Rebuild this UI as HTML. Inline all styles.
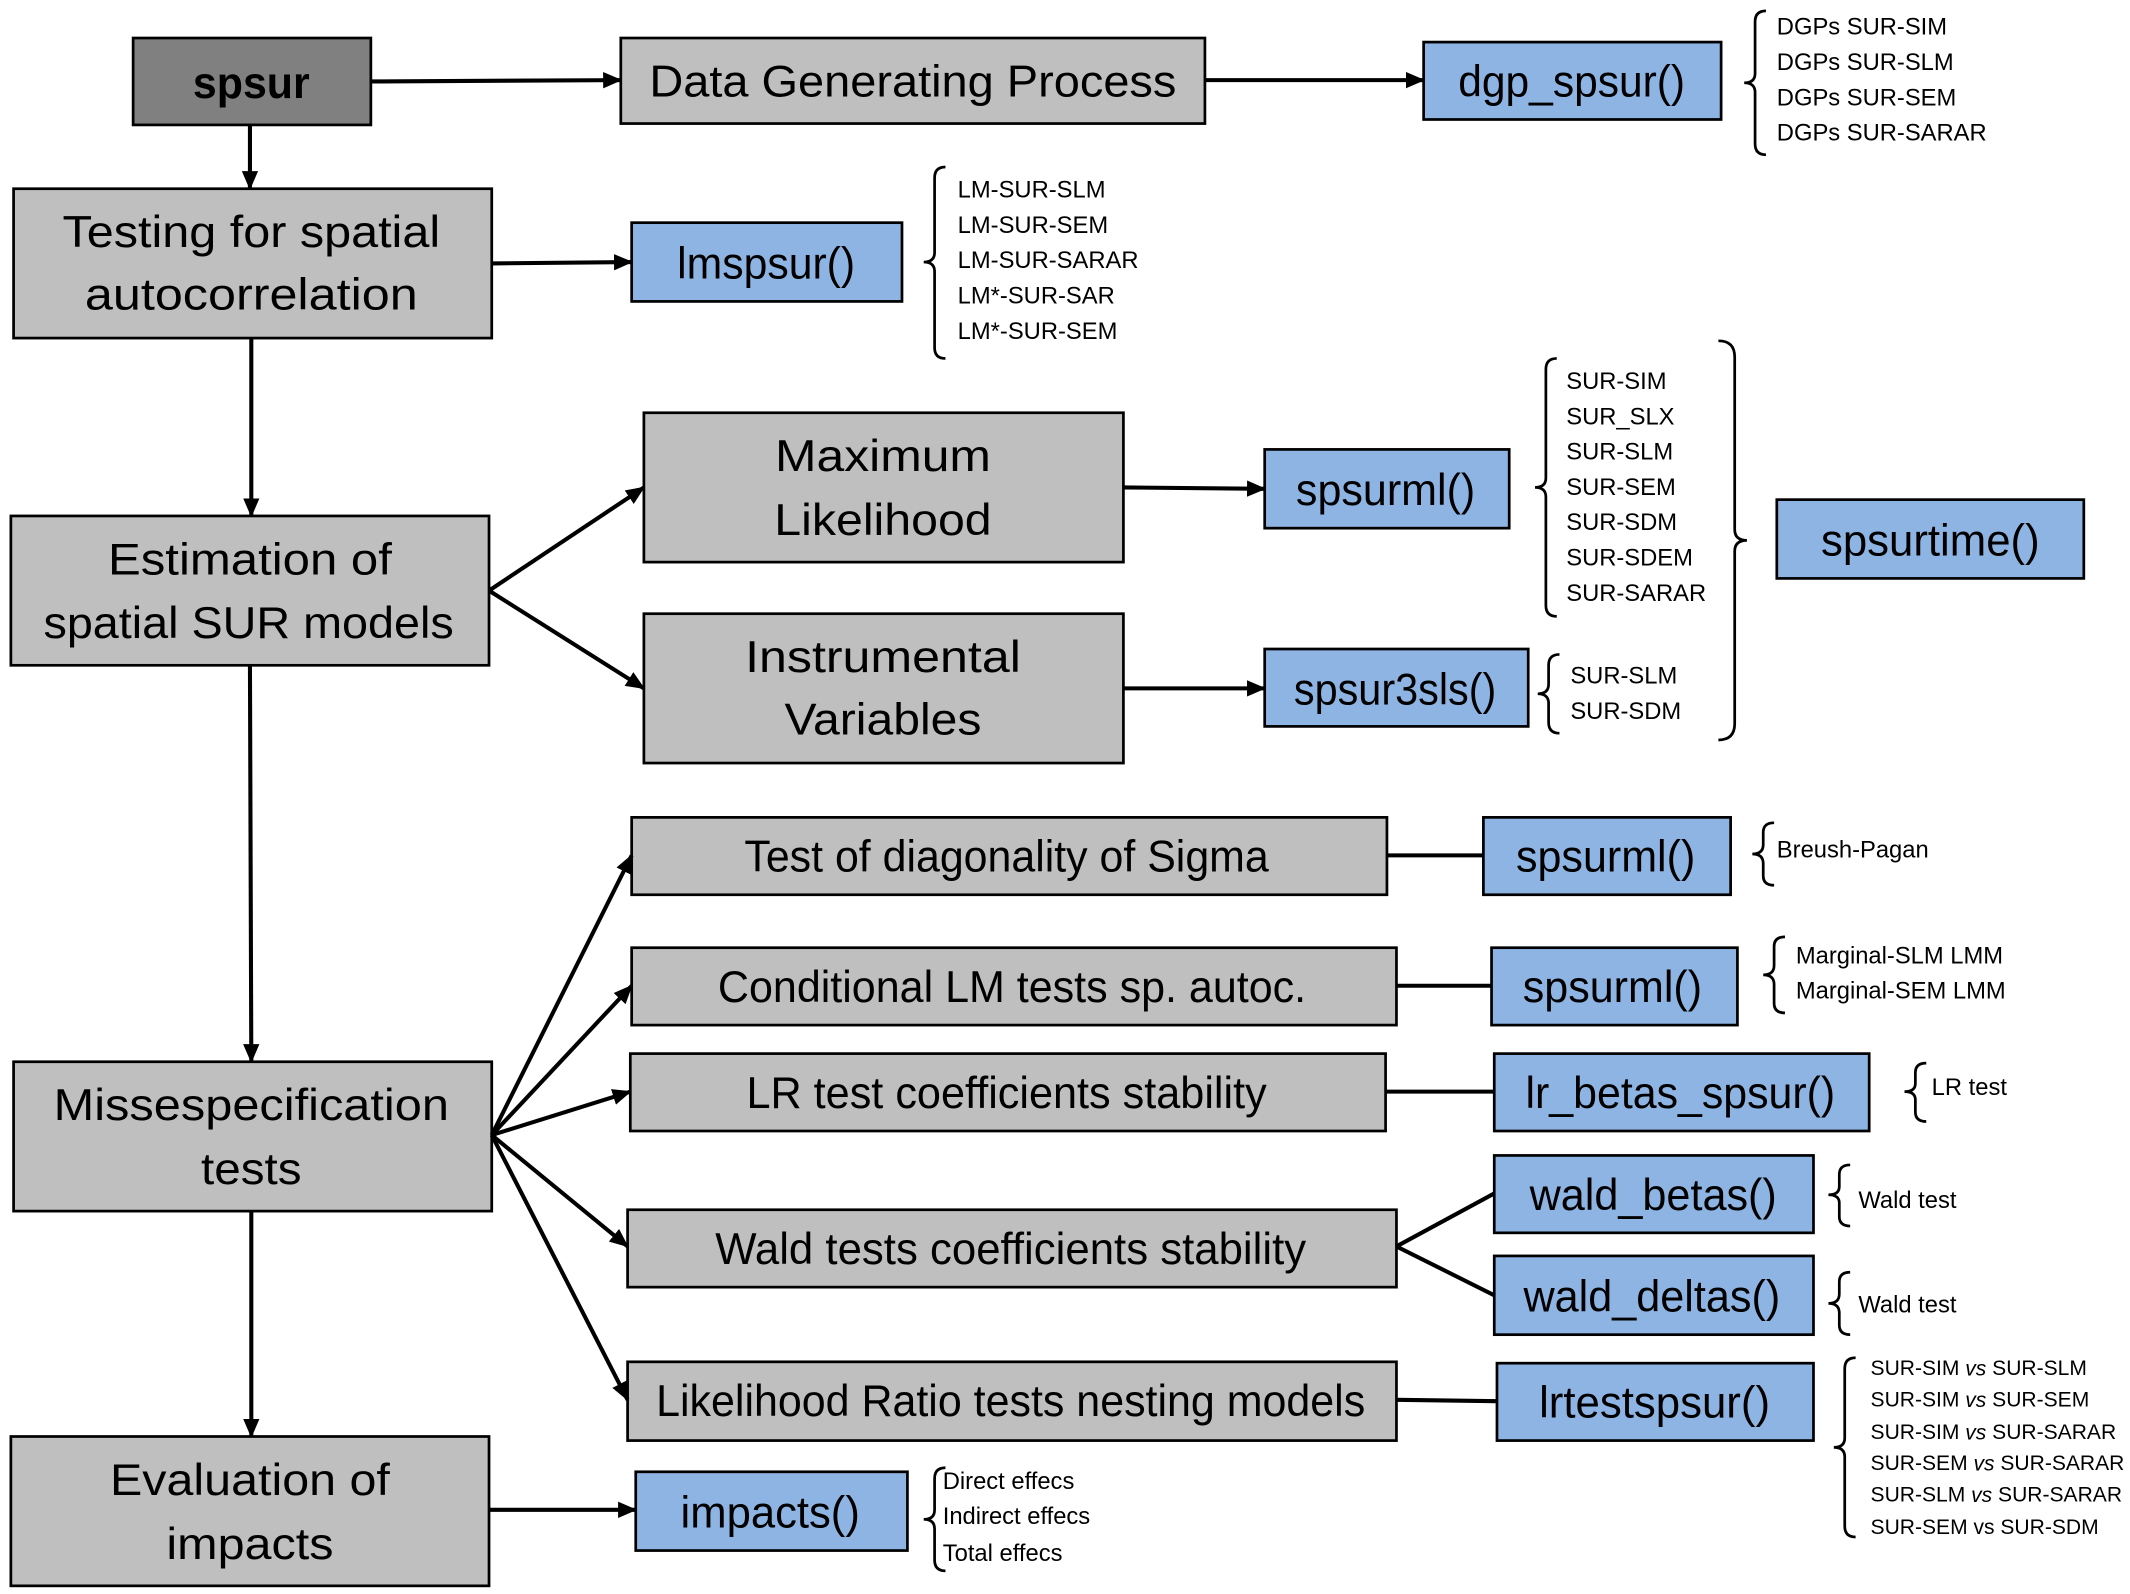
<!DOCTYPE html>
<html><head><meta charset="utf-8"><style>
html,body{margin:0;padding:0;background:#fff;}
svg{display:block;}
text{font-family:"Liberation Sans",sans-serif;fill:#000;}
.b{font-size:33px;text-anchor:middle;dominant-baseline:central;}
.s{font-size:17.5px;dominant-baseline:central;}
.g{fill:#bfbfbf;stroke:#000;stroke-width:2;}
.bl{fill:#8eb4e3;stroke:#000;stroke-width:2;}
.l{stroke:#000;stroke-width:3;fill:none;}
.br{stroke:#000;stroke-width:2;fill:none;}
</style></head><body>
<svg width="2130" height="1594" viewBox="0 0 1568 1174" preserveAspectRatio="none" xmlns="http://www.w3.org/2000/svg">
<defs>
<marker id="m" markerWidth="14" markerHeight="12" refX="13" refY="6" orient="auto" markerUnits="userSpaceOnUse"><path d="M0,0 L14,6 L0,12z"/></marker></defs>

<rect x="98" y="28" width="175" height="64" fill="#808080" stroke="#000" stroke-width="2"/>
<text x="185" y="61" class="b" style="font-weight:bold" textLength="86" lengthAdjust="spacingAndGlyphs">spsur</text>
<rect x="457" y="28" width="430" height="63" class="g"/><text x="672" y="60" class="b" textLength="388" lengthAdjust="spacingAndGlyphs">Data Generating Process</text>
<rect x="1048" y="31" width="219" height="57" class="bl"/><text x="1157" y="60" class="b" textLength="167" lengthAdjust="spacingAndGlyphs">dgp_spsur()</text>

<rect x="10" y="139" width="352" height="110" class="g"/>
<text x="185" y="171" class="b" textLength="278" lengthAdjust="spacingAndGlyphs">Testing for spatial</text>
<text x="185" y="217" class="b" textLength="245" lengthAdjust="spacingAndGlyphs">autocorrelation</text>
<rect x="465" y="164" width="199" height="58" class="bl"/><text x="564" y="194" class="b" textLength="131" lengthAdjust="spacingAndGlyphs">lmspsur()</text>

<rect x="8" y="380" width="352" height="110" class="g"/>
<text x="184" y="412" class="b" textLength="209" lengthAdjust="spacingAndGlyphs">Estimation of</text>
<text x="183" y="459" class="b" textLength="302" lengthAdjust="spacingAndGlyphs">spatial SUR models</text>
<rect x="474" y="304" width="353" height="110" class="g"/>
<text x="650" y="336" class="b" textLength="159" lengthAdjust="spacingAndGlyphs">Maximum</text><text x="650" y="383" class="b" textLength="160" lengthAdjust="spacingAndGlyphs">Likelihood</text>
<rect x="474" y="452" width="353" height="110" class="g"/>
<text x="650" y="484" class="b" textLength="203" lengthAdjust="spacingAndGlyphs">Instrumental</text><text x="650" y="530" class="b" textLength="145" lengthAdjust="spacingAndGlyphs">Variables</text>
<rect x="931" y="331" width="180" height="58" class="bl"/><text x="1020" y="361" class="b" textLength="132" lengthAdjust="spacingAndGlyphs">spsurml()</text>
<rect x="931" y="478" width="194" height="57" class="bl"/><text x="1027" y="508" class="b" textLength="149" lengthAdjust="spacingAndGlyphs">spsur3sls()</text>
<rect x="1308" y="368" width="226" height="58" class="bl"/><text x="1421" y="398" class="b" textLength="161" lengthAdjust="spacingAndGlyphs">spsurtime()</text>

<rect x="10" y="782" width="352" height="110" class="g"/>
<text x="185" y="814" class="b" textLength="291" lengthAdjust="spacingAndGlyphs">Missespecification</text>
<text x="185" y="861" class="b" textLength="74" lengthAdjust="spacingAndGlyphs">tests</text>
<rect x="8" y="1058" width="352" height="110" class="g"/>
<text x="184" y="1090" class="b" textLength="206" lengthAdjust="spacingAndGlyphs">Evaluation of</text>
<text x="184" y="1137" class="b" textLength="123" lengthAdjust="spacingAndGlyphs">impacts</text>

<rect x="465" y="602" width="556" height="57" class="g"/><text x="741" y="631" class="b" textLength="386" lengthAdjust="spacingAndGlyphs">Test of diagonality of Sigma</text>
<rect x="1092" y="602" width="182" height="57" class="bl"/><text x="1182" y="631" class="b" textLength="132" lengthAdjust="spacingAndGlyphs">spsurml()</text>
<rect x="465" y="698" width="563" height="57" class="g"/><text x="745" y="727" class="b" textLength="433" lengthAdjust="spacingAndGlyphs">Conditional LM tests sp. autoc.</text>
<rect x="1098" y="698" width="181" height="57" class="bl"/><text x="1187" y="727" class="b" textLength="132" lengthAdjust="spacingAndGlyphs">spsurml()</text>
<rect x="464" y="776" width="556" height="57" class="g"/><text x="741" y="805" class="b" textLength="383" lengthAdjust="spacingAndGlyphs">LR test coefficients stability</text>
<rect x="1100" y="776" width="276" height="57" class="bl"/><text x="1237" y="805" class="b" textLength="228" lengthAdjust="spacingAndGlyphs">lr_betas_spsur()</text>
<rect x="462" y="891" width="566" height="57" class="g"/><text x="744" y="920" class="b" textLength="435" lengthAdjust="spacingAndGlyphs">Wald tests coefficients stability</text>
<rect x="1100" y="851" width="235" height="57" class="bl"/><text x="1217" y="880" class="b" textLength="182" lengthAdjust="spacingAndGlyphs">wald_betas()</text>
<rect x="1100" y="925" width="235" height="58" class="bl"/><text x="1216" y="955" class="b" textLength="189" lengthAdjust="spacingAndGlyphs">wald_deltas()</text>
<rect x="462" y="1003" width="566" height="58" class="g"/><text x="744" y="1032" class="b" textLength="522" lengthAdjust="spacingAndGlyphs">Likelihood Ratio tests nesting models</text>
<rect x="1102" y="1004" width="233" height="57" class="bl"/><text x="1218" y="1033" class="b" textLength="170" lengthAdjust="spacingAndGlyphs">lrtestspsur()</text>
<rect x="468" y="1084" width="200" height="58" class="bl"/><text x="567" y="1114" class="b" textLength="132" lengthAdjust="spacingAndGlyphs">impacts()</text>

<g class="l" marker-end="url(#m)">
<path d="M273,60 L457,59"/><path d="M887,59 L1048,59"/>
<path d="M184,92 L184,139"/><path d="M362,194 L465,193"/>
<path d="M185,249 L185,380"/>
<path d="M360,435 L474,359"/><path d="M360,435 L474,507"/>
<path d="M827,359 L931,360"/><path d="M827,507 L931,507"/>
<path d="M184,490 L185,782"/>
<path d="M362,836 L465,630"/><path d="M362,836 L465,726"/><path d="M362,836 L464,804"/>
<path d="M362,836 L462,918"/><path d="M362,836 L462,1031"/>
<path d="M185,892 L185,1058"/><path d="M360,1112 L468,1112"/>
</g>
<g class="l">
<path d="M1021,630 L1092,630"/><path d="M1028,726 L1098,726"/><path d="M1020,804 L1100,804"/>
<path d="M1028,918 L1100,879"/><path d="M1028,918 L1100,954"/>
<path d="M1028,1031 L1102,1032"/>
</g>

<g class="br">
<path d="M1300,8 Q1292,8 1292,16 L1292,54 Q1292,61 1284,61 Q1292,61 1292,68 L1292,106 Q1292,114 1300,114"/>
<path d="M696,123 Q688,123 688,131 L688,186 Q688,193 680,193 Q688,193 688,200 L688,256 Q688,264 696,264"/>
<path d="M1146,264 Q1138,264 1138,272 L1138,352 Q1138,359 1130,359 Q1138,359 1138,366 L1138,446 Q1138,454 1146,454"/>
<path d="M1148,482 Q1140,482 1140,490 L1140,504 Q1140,511 1132,511 Q1140,511 1140,518 L1140,532 Q1140,540 1148,540"/>
<path d="M1265,251 Q1277,251 1277,263 L1277,390 Q1277,398 1286,398 Q1277,398 1277,406 L1277,533 Q1277,545 1265,545"/>
<path d="M1306,606 Q1298,606 1298,613 L1298,622 Q1298,629 1290,629 Q1298,629 1298,636 L1298,645 Q1298,652 1306,652"/>
<path d="M1314,690 Q1306,690 1306,697 L1306,711 Q1306,718 1298,718 Q1306,718 1306,725 L1306,739 Q1306,746 1314,746"/>
<path d="M1418,783 Q1410,783 1410,790 L1410,798 Q1410,804 1402,804 Q1410,804 1410,810 L1410,819 Q1410,826 1418,826"/>
<path d="M1362,858 Q1354,858 1354,865 L1354,874 Q1354,880 1346,880 Q1354,880 1354,886 L1354,896 Q1354,903 1362,903"/>
<path d="M1362,937 Q1354,937 1354,944 L1354,953 Q1354,960 1346,960 Q1354,960 1354,967 L1354,976 Q1354,983 1362,983"/>
<path d="M1366,1000 Q1358,1000 1358,1008 L1358,1059 Q1358,1066 1350,1066 Q1358,1066 1358,1073 L1358,1124 Q1358,1132 1366,1132"/>
<path d="M696,1081 Q688,1081 688,1089 L688,1112 Q688,1119 680,1119 Q688,1119 688,1126 L688,1149 Q688,1157 696,1157"/>
</g>

<g class="s">
<text x="1308" y="20">DGPs SUR-SIM</text><text x="1308" y="46">DGPs SUR-SLM</text><text x="1308" y="72">DGPs SUR-SEM</text><text x="1308" y="98">DGPs SUR-SARAR</text>
<text x="705" y="140">LM-SUR-SLM</text><text x="705" y="166">LM-SUR-SEM</text><text x="705" y="192">LM-SUR-SARAR</text><text x="705" y="218">LM*-SUR-SAR</text><text x="705" y="244">LM*-SUR-SEM</text>
<text x="1153" y="281">SUR-SIM</text><text x="1153" y="307">SUR_SLX</text><text x="1153" y="333">SUR-SLM</text><text x="1153" y="359">SUR-SEM</text><text x="1153" y="385">SUR-SDM</text><text x="1153" y="411">SUR-SDEM</text><text x="1153" y="437">SUR-SARAR</text>
<text x="1156" y="498">SUR-SLM</text><text x="1156" y="524">SUR-SDM</text>
<text x="1308" y="626">Breush-Pagan</text>
<text x="1322" y="704">Marginal-SLM LMM</text><text x="1322" y="730">Marginal-SEM LMM</text>
<text x="1422" y="801">LR test</text>
<text x="1368" y="884">Wald test</text><text x="1368" y="961">Wald test</text>
<g style="font-size:15.5px">
<text x="1377" y="1008">SUR-SIM <tspan font-style="italic">vs</tspan> SUR-SLM</text>
<text x="1377" y="1031">SUR-SIM <tspan font-style="italic">vs</tspan> SUR-SEM</text>
<text x="1377" y="1055">SUR-SIM <tspan font-style="italic">vs</tspan> SUR-SARAR</text>
<text x="1377" y="1078">SUR-SEM <tspan font-style="italic">vs</tspan> SUR-SARAR</text>
<text x="1377" y="1101">SUR-SLM <tspan font-style="italic">vs</tspan> SUR-SARAR</text>
<text x="1377" y="1125">SUR-SEM vs SUR-SDM</text>
</g>
<text x="694" y="1091">Direct effecs</text><text x="694" y="1117">Indirect effecs</text><text x="694" y="1144">Total effecs</text>
</g>
</svg>
</body></html>
